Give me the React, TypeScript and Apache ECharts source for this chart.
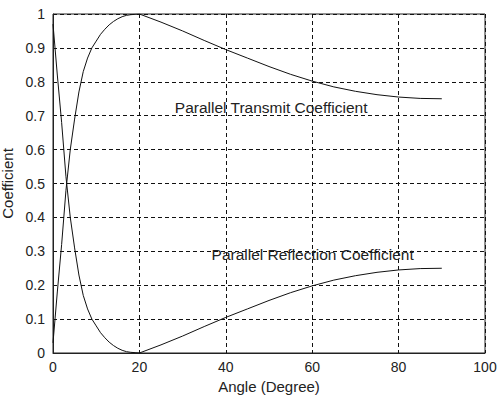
import React, { useEffect, useRef } from "react";
import * as echarts from "echarts";

const angles = [0, 1, 2, 3, 4, 5, 6, 7, 8, 9, 10, 11, 12, 13, 14, 15, 16, 17, 18, 19, 20, 25, 30, 35, 40, 45, 50, 55, 60, 65, 70, 75, 80, 85, 90];
const reflection = [0.97, 0.82, 0.68, 0.52, 0.4, 0.31, 0.23, 0.17, 0.13, 0.1, 0.08, 0.06, 0.045, 0.032, 0.022, 0.014, 0.008, 0.004, 0.002, 0.001, 0, 0.024, 0.05, 0.078, 0.105, 0.13, 0.155, 0.178, 0.198, 0.215, 0.228, 0.238, 0.245, 0.249, 0.25];
const transmit = [0.03, 0.18, 0.32, 0.48, 0.6, 0.69, 0.77, 0.83, 0.87, 0.9, 0.92, 0.94, 0.955, 0.968, 0.978, 0.986, 0.992, 0.996, 0.998, 0.999, 1, 0.976, 0.95, 0.922, 0.895, 0.87, 0.845, 0.822, 0.802, 0.785, 0.772, 0.762, 0.755, 0.751, 0.75];
const transmitLabel = { text: "Parallel Transmit Coefficient", at: [50.5, 0.723] };
const reflectionLabel = { text: "Parallel Reflection Coefficient", at: [60.1, 0.291] };

const FONT = "'Liberation Sans', Arial, sans-serif";

export default function App() {
  const ref = useRef<HTMLDivElement>(null);
  useEffect(() => {
    if (!ref.current) return;
    const chart = echarts.init(ref.current, undefined, { renderer: "svg" });
    const lineStyle = { color: "#111", width: 1 };
    const mkLabel = (l: { text: string; at: number[] }) => ({
      symbol: "rect",
      symbolSize: 1,
      silent: true,
      itemStyle: { color: "rgba(0,0,0,0)" },
      label: {
        show: true,
        position: "inside",
        formatter: l.text,
        color: "#222",
        fontSize: 15.5,
        fontFamily: FONT,
      },
      data: [{ coord: l.at }],
    });
    chart.setOption({
      animation: false,
      backgroundColor: "#fff",
      textStyle: { fontFamily: FONT },
      grid: {
        left: 53,
        right: 15,
        top: 14,
        bottom: 45,
        outerBoundsMode: "none",
        containLabel: false,
        show: true,
        borderColor: "#222",
        borderWidth: 1,
        backgroundColor: "#fff",
      },
      xAxis: {
        type: "value",
        min: 0,
        max: 100,
        interval: 20,
        name: "Angle (Degree)",
        nameLocation: "middle",
        nameGap: 19,
        nameTextStyle: { color: "#222", fontSize: 15, fontFamily: FONT },
        axisLine: { show: true, lineStyle: { color: "#222" } },
        axisTick: { show: false },
        axisLabel: { color: "#222", fontSize: 14, margin: 7, fontFamily: FONT },
        splitLine: { show: true, lineStyle: { color: "#111", type: [4, 3], width: 1 } },
      },
      yAxis: {
        type: "value",
        min: 0,
        max: 1,
        interval: 0.1,
        name: "Coefficient",
        nameLocation: "middle",
        nameGap: 30,
        nameTextStyle: { color: "#222", fontSize: 15, fontFamily: FONT },
        axisLine: { show: true, lineStyle: { color: "#222" } },
        axisTick: { show: false },
        axisLabel: {
          color: "#222",
          fontSize: 14,
          margin: 8,
          fontFamily: FONT,
          formatter: (v: number) => String(Math.round(v * 10) / 10),
        },
        splitLine: { show: true, lineStyle: { color: "#111", type: [4, 3], width: 1 } },
      },
      series: [
        {
          type: "line",
          name: "Transmit",
          data: angles.map((a, i) => [a, transmit[i]]),
          showSymbol: false,
          symbol: "none",
          lineStyle,
          markPoint: mkLabel(transmitLabel),
        },
        {
          type: "line",
          name: "Reflection",
          data: angles.map((a, i) => [a, reflection[i]]),
          showSymbol: false,
          symbol: "none",
          lineStyle,
          markPoint: mkLabel(reflectionLabel),
        },
      ],
    });
    return () => chart.dispose();
  }, []);
  return (
    <div
      ref={ref}
      style={{ position: "fixed", left: 0, top: 0, width: 500, height: 398, background: "#fff" }}
    />
  );
}
